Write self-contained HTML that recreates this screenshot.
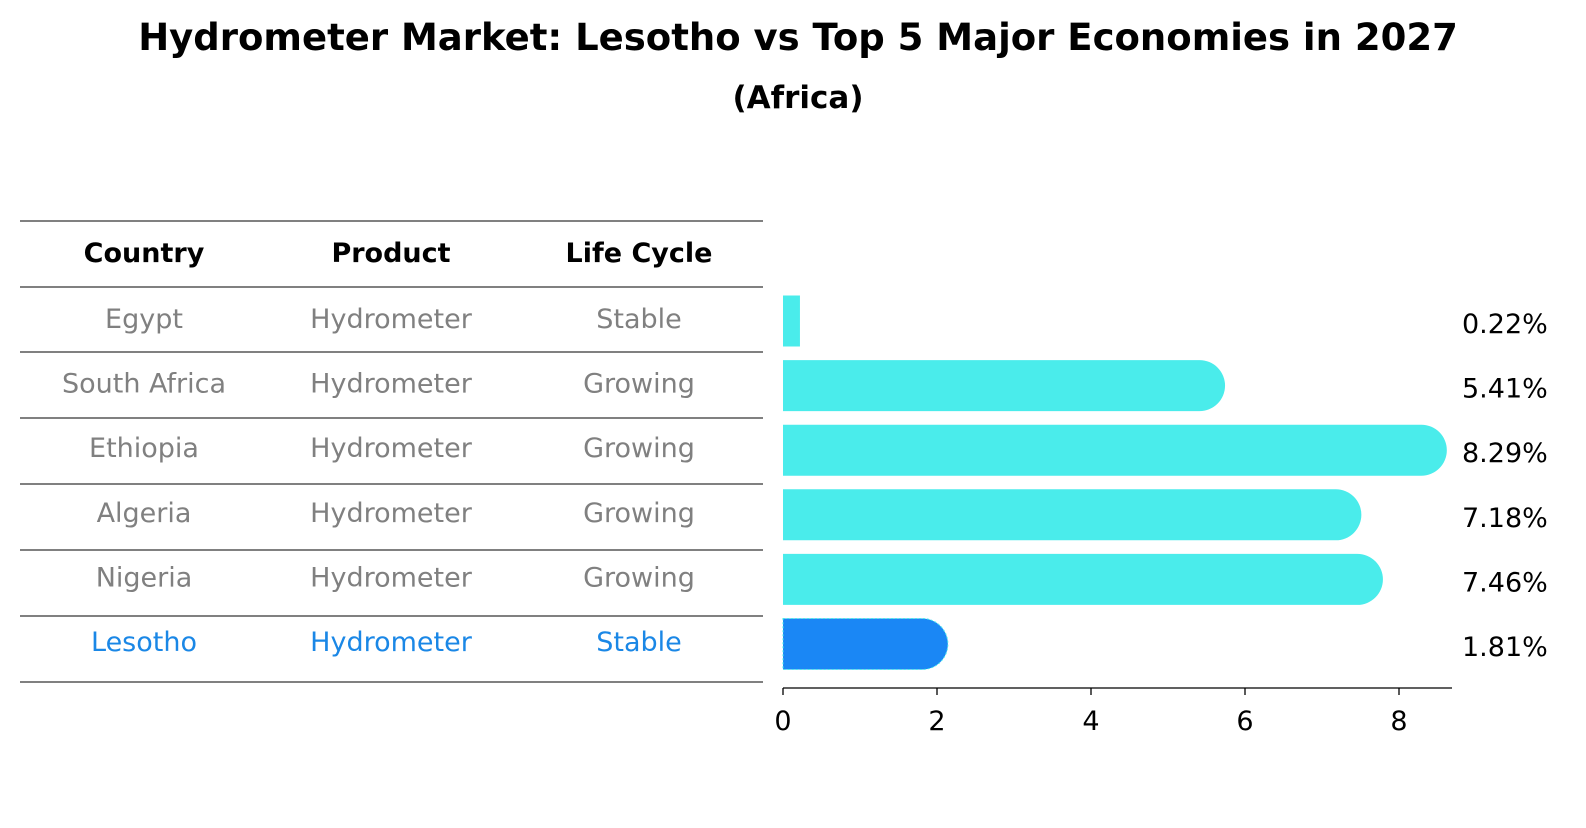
<!DOCTYPE html>
<html><head><meta charset="utf-8"><style>
body{margin:0;background:#fff;font-family:"Liberation Sans","DejaVu Sans",sans-serif;}
</style></head><body>
<svg width="1586" height="823" xmlns="http://www.w3.org/2000/svg" font-family="DejaVu Sans, Liberation Sans, sans-serif">
<text x="798" y="50" text-anchor="middle" font-size="37" font-weight="bold">Hydrometer Market: Lesotho vs Top 5 Major Economies in 2027</text>
<text x="798" y="108" text-anchor="middle" font-size="31" font-weight="bold">(Africa)</text>
<g id="table"></g>
<g id="bars"></g>
</svg>
<script>
const countries=["Egypt","South Africa","Ethiopia","Algeria","Nigeria","Lesotho"];
const products=["Hydrometer","Hydrometer","Hydrometer","Hydrometer","Hydrometer","Hydrometer"];
const lifeCycles=["Stable","Growing","Growing","Growing","Growing","Stable"];
const values=[0.22,5.41,8.29,7.18,7.46,1.81];
const ticks=[0,2,4,6,8];
const NS="http://www.w3.org/2000/svg";
function mk(t,a,p,txt){const e=document.createElementNS(NS,t);for(const k in a)e.setAttribute(k,a[k]);if(txt!=null)e.textContent=txt;p.appendChild(e);return e;}
const tbl=document.getElementById('table'),bars=document.getElementById('bars');
const x=v=>783+v*77;
const rowY=i=>321+i*64.6;
const lineYs=[221,287,352,418,484,550,616,682];
lineYs.forEach((y,i)=>{const l=mk('line',{x1:20,x2:763,y1:y,y2:y,stroke:'#000','stroke-width':1},tbl);
});
const colX=[144,391,639];
["Country","Product","Life Cycle"].forEach((h,j)=>{const t=mk('text',{x:colX[j],y:262,'text-anchor':'middle','font-size':27,'font-weight':'bold'},tbl,h);
});
countries.forEach((c,i)=>{
 const col=c==="Lesotho"?'#1a87e6':'#808080';
 [c,products[i],lifeCycles[i]].forEach((v,j)=>{const t=mk('text',{x:colX[j],y:rowY(i)+7,'text-anchor':'middle','font-size':27,fill:col},tbl,v);
 });
 const h=51,y0=rowY(i)-h/2,w=x(values[i])-x(0);
 const r=w>h/2?h/2:0;
 const fill=c==="Lesotho"?'#1a87f5':'#4aeceb';
 let b;
 if(r>0){b=mk('path',{d:`M${x(0)},${y0}H${x(values[i])}A${r},${r} 0 0 1 ${x(values[i])},${y0+h}H${x(0)}Z`,fill:fill},bars);}
 else b=mk('rect',{x:x(0),y:y0,width:w,height:h,fill:fill},bars);
 if(c==="Lesotho"){b.setAttribute('stroke','#4aeceb');b.setAttribute('stroke-dasharray','2 2');b.setAttribute('stroke-width','1');}
 
 const lb=mk('text',{x:1462,y:rowY(i)+12,'font-size':27},bars,values[i].toFixed(2)+'%');
 
});
const ax=mk('line',{x1:783,x2:1452,y1:688,y2:688,stroke:'#000','stroke-width':1.3},bars);

ticks.forEach(t=>{const tk=mk('line',{x1:x(t),x2:x(t),y1:688,y2:695,stroke:'#000','stroke-width':1.3},bars);

const tl=mk('text',{x:x(t),y:730,'text-anchor':'middle','font-size':27},bars,t);
});
</script>
</body></html>
